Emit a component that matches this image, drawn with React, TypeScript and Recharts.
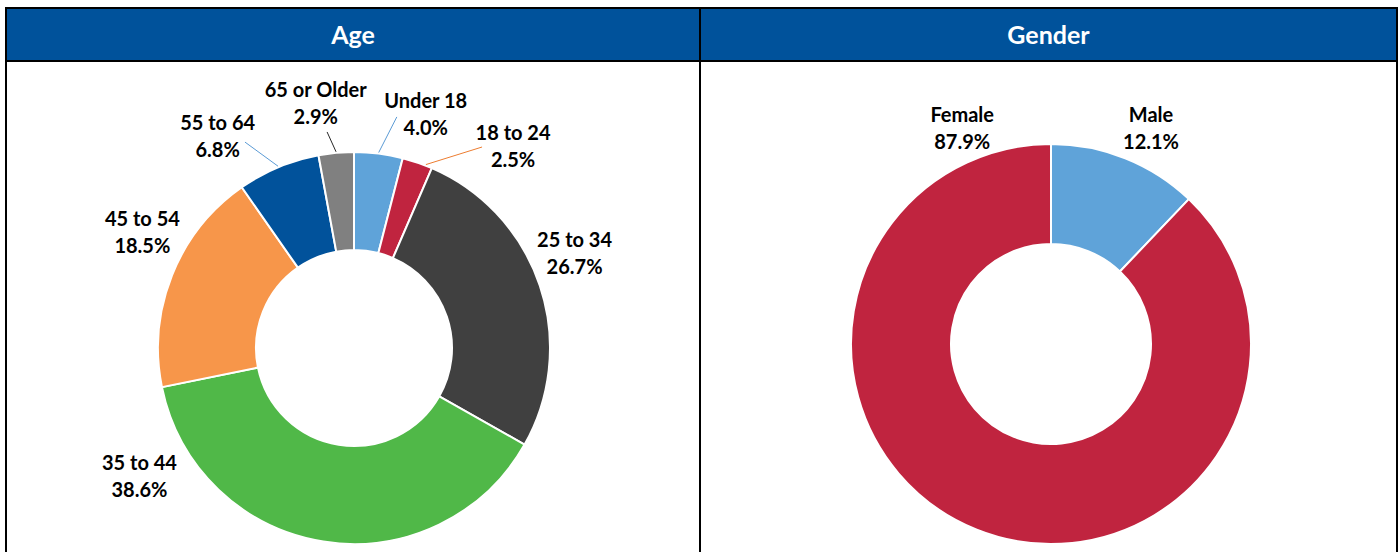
import React from "react";
import { PieChart, Pie, Cell } from "recharts";

const ageCategories = ["Under 18", "18 to 24", "25 to 34", "35 to 44", "45 to 54", "55 to 64", "65 or Older"];
const ageValues = [4.0, 2.5, 26.7, 38.6, 18.5, 6.8, 2.9];
const ageColors = ["#5FA3D9", "#C0243F", "#404040", "#50B848", "#F7964A", "#01529B", "#808080"];

const genderCategories = ["Male", "Female"];
const genderValues = [12.1, 87.9];
const genderColors = ["#5FA3D9", "#C0243F"];

const panelTitles = ["Age", "Gender"];

// label placement (angle clockwise from 12 o'clock, distance from centre)
type LabelLayout = { angle: number; dist: number; line?: { angle: number; dist: number; end?: number; color: string } };
const ageLabelLayout: LabelLayout[] = [
  { angle: 17.1, dist: 244, line: { angle: 10.5, dist: 235, color: "#5B9BD5" } },
  { angle: 38.3, dist: 256.7, line: { angle: 32.5, dist: 238.3, end: 21.4, color: "#ED7D31" } },
  { angle: 66.8, dist: 240 },
  { angle: 239.1, dist: 250 },
  { angle: 298.6, dist: 241 },
  { angle: 327.2, dist: 251.7, line: { angle: 332.1, dist: 233, color: "#5B9BD5" } },
  { angle: 351.1, dist: 247.5, line: { angle: 352.9, dist: 217.7, color: "#262626" } },
];
const genderLabelLayout: LabelLayout[] = [
  { angle: 24.9, dist: 237.6 },
  { angle: 337.6, dist: 233 },
];

const FONT = "Lato, 'Open Sans', sans-serif";

const ageData = ageCategories.map((name, i) => ({ name, value: ageValues[i] }));
const genderData = genderCategories.map((name, i) => ({ name, value: genderValues[i] }));

function polar(cx: number, cy: number, angleCw: number, r: number) {
  const a = (angleCw * Math.PI) / 180;
  return { x: cx + r * Math.sin(a), y: cy - r * Math.cos(a) };
}

function makeLabel(layout: LabelLayout[], names: string[], values: number[]) {
  return (props: any) => {
    const { cx, cy, midAngle, outerRadius, index } = props;
    const l = layout[index];
    const p = polar(cx, cy, l.angle, l.dist);
    const midCw = 90 - midAngle;
    let line = null;
    if (l.line) {
      const s = polar(cx, cy, l.line.angle, l.line.dist);
      const e = polar(cx, cy, l.line.end !== undefined ? l.line.end : midCw, outerRadius + 1);
      line = <line x1={s.x} y1={s.y} x2={e.x} y2={e.y} stroke={l.line.color} strokeWidth={1} />;
    }
    return (
      <g key={`lbl-${index}`}>
        {line}
        <text
          x={p.x}
          y={p.y}
          textAnchor="middle"
          fontFamily={FONT}
          fontWeight={700}
          fontSize={20}
          fill="#000"
        >
          <tspan x={p.x} y={p.y - 6.5}>{names[index]}</tspan>
          <tspan x={p.x} y={p.y + 20.5}>{values[index].toFixed(1) + "%"}</tspan>
        </text>
      </g>
    );
  };
}

const noMargin = { top: 0, right: 0, bottom: 0, left: 0 };

export default function App() {
  const headerStyle: React.CSSProperties = {
    position: "absolute",
    top: 9,
    height: 51,
    lineHeight: "51px",
    background: "#00529B",
    color: "#fff",
    fontFamily: FONT,
    fontWeight: 700,
    fontSize: 25,
    textAlign: "center",
  };
  return (
    <div style={{ position: "absolute", left: 0, top: 0, width: 1400, height: 552, background: "#fff", overflow: "hidden" }}>
      {/* frame */}
      <div style={{ position: "absolute", left: 5, top: 7, width: 1393, height: 600, border: "2px solid #000", boxSizing: "border-box" }} />
      <div style={{ ...headerStyle, left: 7, width: 692 }}>{panelTitles[0]}</div>
      <div style={{ ...headerStyle, left: 701, width: 695 }}>{panelTitles[1]}</div>
      <div style={{ position: "absolute", left: 7, top: 60, width: 1389, height: 2, background: "#000" }} />
      <div style={{ position: "absolute", left: 699, top: 9, width: 2, height: 560, background: "#000" }} />

      <div style={{ position: "absolute", left: 7, top: 62 }}>
        <PieChart width={692} height={490} margin={noMargin}>
          <Pie
            data={ageData}
            dataKey="value"
            nameKey="name"
            cx={347}
            cy={286}
            outerRadius={196}
            innerRadius={98}
            startAngle={90}
            endAngle={-270}
            stroke="#fff"
            strokeWidth={2}
            isAnimationActive={false}
            labelLine={false}
            label={makeLabel(ageLabelLayout, ageCategories, ageValues)}
          >
            {ageData.map((d, i) => (
              <Cell key={d.name} fill={ageColors[i]} />
            ))}
          </Pie>
        </PieChart>
      </div>

      <div style={{ position: "absolute", left: 701, top: 62 }}>
        <PieChart width={695} height={490} margin={noMargin}>
          <Pie
            data={genderData}
            dataKey="value"
            nameKey="name"
            cx={350}
            cy={282}
            outerRadius={200}
            innerRadius={100}
            startAngle={90}
            endAngle={-270}
            stroke="#fff"
            strokeWidth={2}
            isAnimationActive={false}
            labelLine={false}
            label={makeLabel(genderLabelLayout, genderCategories, genderValues)}
          >
            {genderData.map((d, i) => (
              <Cell key={d.name} fill={genderColors[i]} />
            ))}
          </Pie>
        </PieChart>
      </div>
    </div>
  );
}
